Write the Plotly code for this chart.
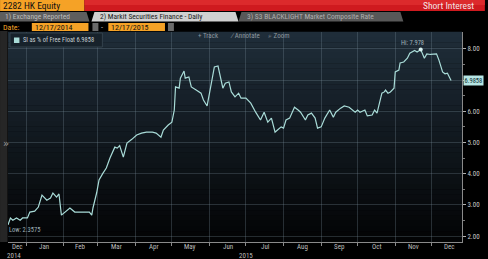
import plotly.graph_objects as go

# ---------------- data ----------------
dates = [
    "2014-12-17", "2014-12-19", "2014-12-21", "2014-12-24", "2014-12-27", "2014-12-29",
    "2015-01-02", "2015-01-04", "2015-01-08", "2015-01-11", "2015-01-14", "2015-01-16",
    "2015-01-18", "2015-01-21", "2015-01-23", "2015-01-26", "2015-01-28", "2015-01-30",
    "2015-02-02", "2015-02-06", "2015-02-10", "2015-02-16", "2015-02-22", "2015-02-24",
    "2015-02-25", "2015-02-28", "2015-03-02", "2015-03-05", "2015-03-08", "2015-03-11",
    "2015-03-15", "2015-03-17", "2015-03-19", "2015-03-22", "2015-03-25", "2015-03-29",
    "2015-04-02", "2015-04-06", "2015-04-10", "2015-04-15", "2015-04-18", "2015-04-22",
    "2015-04-24", "2015-04-28", "2015-05-01", "2015-05-03", "2015-05-04", "2015-05-07",
    "2015-05-08", "2015-05-11", "2015-05-12", "2015-05-15", "2015-05-17", "2015-05-21",
    "2015-05-25", "2015-05-27", "2015-05-30", "2015-06-01", "2015-06-03", "2015-06-05",
    "2015-06-08", "2015-06-10", "2015-06-11", "2015-06-12", "2015-06-14", "2015-06-17",
    "2015-06-19", "2015-06-22", "2015-06-25", "2015-06-27", "2015-07-01", "2015-07-05",
    "2015-07-09", "2015-07-13", "2015-07-16", "2015-07-19", "2015-07-22", "2015-07-25",
    "2015-07-27", "2015-07-30", "2015-08-01", "2015-08-03", "2015-08-06", "2015-08-10",
    "2015-08-13", "2015-08-15", "2015-08-19", "2015-08-21", "2015-08-24", "2015-08-27",
    "2015-08-29", "2015-09-01", "2015-09-04", "2015-09-08", "2015-09-11", "2015-09-13",
    "2015-09-17", "2015-09-20", "2015-09-24", "2015-09-29", "2015-10-01", "2015-10-03",
    "2015-10-07", "2015-10-09", "2015-10-13", "2015-10-15", "2015-10-17", "2015-10-19",
    "2015-10-21", "2015-10-23", "2015-10-24", "2015-10-26", "2015-10-28", "2015-10-31",
    "2015-11-01", "2015-11-04", "2015-11-05", "2015-11-08", "2015-11-11", "2015-11-13",
    "2015-11-17", "2015-11-19", "2015-11-22", "2015-11-25", "2015-11-27", "2015-11-30",
    "2015-12-03", "2015-12-05", "2015-12-07", "2015-12-10", "2015-12-12", "2015-12-14",
    "2015-12-17",
]
si_pct_free_float = [
    2.3575, 2.58, 2.51, 2.58, 2.51, 2.58,
    2.58, 2.77, 2.80, 2.93, 3.31, 3.22,
    3.15, 3.22, 3.38, 3.25, 3.35, 2.67,
    2.77, 2.90, 2.77, 2.77, 2.77, 2.67,
    2.90, 3.38, 3.80, 4.00, 4.18, 4.50,
    4.85, 4.82, 4.90, 4.53, 4.98, 5.10,
    5.24, 5.30, 5.33, 5.33, 5.30, 5.17,
    5.40, 5.56, 5.65, 6.04, 6.78, 6.74,
    7.06, 7.29, 7.06, 7.10, 6.78, 6.68,
    6.58, 6.36, 6.17, 6.58, 7.06, 7.42,
    7.45, 7.10, 6.90, 6.74, 6.90, 6.94,
    6.62, 6.46, 6.58, 6.42, 6.42, 6.26,
    5.97, 5.72, 5.97, 5.65, 5.78, 5.33,
    5.40, 5.50, 5.46, 5.72, 5.78, 6.13,
    6.04, 5.97, 5.72, 5.88, 5.94, 5.78,
    5.46, 5.50, 5.78, 6.04, 5.81, 5.97,
    6.10, 6.17, 6.13, 5.97, 6.04, 5.97,
    6.04, 5.85, 5.88, 6.04, 5.94, 6.30,
    6.58, 6.62, 6.68, 6.58, 6.62, 6.74,
    7.26, 7.32, 7.55, 7.58, 7.70, 7.86,
    7.95, 7.90, 7.978, 7.70, 7.84, 7.82,
    7.84, 7.84, 7.64, 7.26, 7.20, 7.22,
    6.9858,
]
hi_date, hi_value = "2015-11-22", 7.978
low_date, low_value = "2014-12-17", 2.3575
last_value = 6.9858

month_starts = ["2015-01-01", "2015-02-01", "2015-03-01", "2015-04-01", "2015-05-01",
                "2015-06-01", "2015-07-01", "2015-08-01", "2015-09-01", "2015-10-01",
                "2015-11-01", "2015-12-01"]
month_label_dates = ["2014-12-25", "2015-01-16", "2015-02-15", "2015-03-16", "2015-04-16",
                     "2015-05-16", "2015-06-16", "2015-07-17", "2015-08-17", "2015-09-16",
                     "2015-10-17", "2015-11-16", "2015-12-16"]
month_labels = ["Dec", "Jan", "Feb", "Mar", "Apr", "May", "Jun", "Jul", "Aug", "Sep",
                "Oct", "Nov", "Dec"]
year_label_dates = ["2014-12-22", "2015-07-01"]
year_labels = ["2014", "2015"]

# right axis: 7.00 label is hidden behind the last-value tag in the reference
y_tick_vals = [2, 3, 4, 5, 6, 7, 8]
y_tick_text = ["2.00", "3.00", "4.00", "5.00", "6.00", "", "8.00"]
y_minor_vals = [2.5, 3.5, 4.5, 5.5, 6.5, 7.5]

# ---------------- geometry helpers (pixel -> paper) ----------------
W, H = 488, 259
ML, MR, MT, MB = 8, 23, 32, 17
PW, PH = W - ML - MR, H - MT - MB


def X(px):
    return (px - ML) / PW


def Y(py):
    return (H - MB - py) / PH


FONT = "Liberation Sans Narrow, Roboto Condensed, Liberation Sans, Arial, sans-serif"
LINE = "#a9dcd8"
GRID = "rgba(120,140,152,0.30)"

fig = go.Figure()
fig.add_trace(go.Scatter(x=dates, y=si_pct_free_float, mode="lines",
                         line=dict(color=LINE, width=1.2), hoverinfo="skip"))
fig.add_trace(go.Scatter(x=[hi_date], y=[hi_value], mode="markers",
                         marker=dict(color="#d8f2f0", size=4), hoverinfo="skip"))

shapes = []
# gradient background of plot area
N = 40
top = (31, 45, 57)
bot = (3, 4, 5)
for i in range(N):
    t = i / (N - 1)
    c = tuple(int(round(top[k] + (bot[k] - top[k]) * t)) for k in range(3))
    shapes.append(dict(type="rect", xref="paper", yref="paper", x0=0, x1=1,
                       y0=1 - (i + 1) / N, y1=1 - i / N + 0.001,
                       fillcolor="rgb(%d,%d,%d)" % c, line=dict(width=0), layer="below"))

# left strip
shapes.append(dict(type="rect", xref="paper", yref="paper", x0=X(0), x1=X(7.5),
                   y0=Y(242), y1=Y(31), fillcolor="#262626", line=dict(width=0)))
# header row 1
shapes.append(dict(type="rect", xref="paper", yref="paper", x0=X(0), x1=X(85),
                   y0=Y(11), y1=Y(0), fillcolor="#f5a226", line=dict(width=0)))
shapes.append(dict(type="rect", xref="paper", yref="paper", x0=X(85), x1=X(488),
                   y0=Y(11), y1=Y(0), fillcolor="#cf1a1f", line=dict(width=0)))
shapes.append(dict(type="rect", xref="paper", yref="paper", x0=X(85), x1=X(488),
                   y0=Y(5), y1=Y(0), fillcolor="#dc2a2c", line=dict(width=0)))


def tab(x0, x1, color):
    return dict(type="path", xref="paper", yref="paper",
                path="M %f %f L %f %f L %f %f L %f %f Z" % (
                    X(x0), Y(21.5), X(x0 + 3), Y(12), X(x1 - 3), Y(12), X(x1), Y(21.5)),
                fillcolor=color, line=dict(width=0))


shapes.append(dict(type="rect", xref="paper", yref="paper", x0=X(0), x1=X(488),
                   y0=Y(21.5), y1=Y(11), fillcolor="#000000", line=dict(width=0)))
shapes.append(tab(-3, 90, "#5e5e5e"))
shapes.append(tab(92, 240, "#d0d0d0"))
shapes.append(tab(240, 406, "#585858"))
# date row
shapes.append(dict(type="rect", xref="paper", yref="paper", x0=X(32), x1=X(89),
                   y0=Y(31), y1=Y(23), fillcolor="#f5a226", line=dict(width=0)))
shapes.append(dict(type="rect", xref="paper", yref="paper", x0=X(109), x1=X(166),
                   y0=Y(31), y1=Y(23), fillcolor="#f5a226", line=dict(width=0)))
for ix in (93, 169):
    shapes.append(dict(type="rect", xref="paper", yref="paper", x0=X(ix), x1=X(ix + 6),
                       y0=Y(31), y1=Y(23), fillcolor="#6a6a6a", line=dict(width=0)))
# legend box
shapes.append(dict(type="rect", xref="paper", yref="paper", x0=X(10), x1=X(103),
                   y0=Y(47), y1=Y(33), fillcolor="#17222b",
                   line=dict(color="#34424d", width=1)))
shapes.append(dict(type="rect", xref="paper", yref="paper", x0=X(14), x1=X(19.5),
                   y0=Y(43), y1=Y(37.5), fillcolor=LINE, line=dict(width=0)))

ann = []
for d, t in zip(month_label_dates, month_labels):
    ann.append(dict(x=d, y=Y(247.5), xref="x", yref="paper", text=t, showarrow=False,
                    font=dict(size=7, color="#bdbdbd", family=FONT), yanchor="middle"))
for d, t in zip(year_label_dates, year_labels):
    ann.append(dict(x=d, y=Y(255.5), xref="x", yref="paper", text=t, showarrow=False,
                    font=dict(size=7, color="#bdbdbd", family=FONT), yanchor="middle"))


def txt(px, py, s, size, color, anchor="left", family=FONT):
    return dict(x=X(px), y=Y(py), xref="paper", yref="paper", text=s, showarrow=False,
                xanchor=anchor, yanchor="middle",
                font=dict(size=size, color=color, family=family))


ann += [
    txt(1, 5.5, "2282 HK Equity", 9.5, "#111111"),
    txt(479, 5.5, "Short Interest", 9.5, "#f4e4e4", anchor="right"),
    txt(3, 16.8, "1) Exchange Reported", 7.5, "#bdbdbd"),
    txt(99, 16.8, "2) Markit Securities Finance - Daily", 7.5, "#1a1a1a"),
    txt(247, 16.8, "3) S3 BLACKLIGHT Market Composite Rate", 7.5, "#b0b0b0"),
    txt(1, 27, "Date:", 8, "#f5a226"),
    txt(33, 27, "12/17/2014", 8, "#111111"),
    txt(110, 27, "12/17/2015", 8, "#111111"),
    txt(100, 27, "-", 8, "#cfcfcf"),
    txt(21, 40, f"SI as % of Free Float {last_value:.4f}", 6.5, "#c8d0d4"),
    txt(197, 36, "+ Track", 7, "#8d979e"),
    txt(229, 36, "∕ Annotate", 7, "#8d979e"),
    txt(268, 36, "⌕ Zoom", 7, "#8d979e"),
    txt(0.5, 143, "»", 10, "#9a9a9a", family="DejaVu Sans"),
    dict(x=hi_date, y=hi_value, xref="x", yref="y", text=f"Hi: {hi_value:.3f}",
         showarrow=False, xanchor="center", yanchor="bottom", xshift=-8, yshift=1,
         font=dict(size=6.5, color="#9fb1b8", family=FONT)),
    dict(x=low_date, y=low_value, xref="x", yref="y", text=f"Low: {low_value:.4f}",
         showarrow=False, xanchor="left", yanchor="top", xshift=-1, yshift=1,
         font=dict(size=6.5, color="#9fb1b8", family=FONT)),
    dict(x=X(466.5), y=last_value, xref="paper", yref="y", text=f"{last_value:.4f}",
         showarrow=False, xanchor="left", yanchor="middle",
         font=dict(size=6.5, color="#0e2e33", family=FONT), bgcolor="#b6e6e4",
         borderpad=0.5),
]

fig.update_layout(
    width=W, height=H,
    margin=dict(l=ML, r=MR, t=MT, b=MB, pad=0),
    paper_bgcolor="#000000",
    plot_bgcolor="rgba(0,0,0,0)",
    showlegend=False,
    shapes=shapes,
    annotations=ann,
    xaxis=dict(type="date", range=["2014-12-17", "2015-12-26"], tickmode="array",
               tickvals=month_starts, showticklabels=False, ticks="outside", ticklen=3,
               tickcolor="#8a8a8a", showgrid=True, gridcolor=GRID, gridwidth=1,
               showline=True, linecolor="#8a8a8a", linewidth=1, zeroline=False,
               fixedrange=True),
    yaxis=dict(side="right", range=[1.81, 8.54], tickmode="array",
               tickvals=y_tick_vals, ticktext=y_tick_text,
               ticks="outside", ticklen=3, tickcolor="#b0b0b0",
               tickfont=dict(size=7, color="#c8c8c8", family=FONT),
               showgrid=True, gridcolor=GRID, gridwidth=1,
               showline=True, linecolor="#8a8a8a", linewidth=1, zeroline=False,
               minor=dict(tickmode="array", tickvals=y_minor_vals, ticks="outside",
                          ticklen=2, tickcolor="#7a7a7a", showgrid=False),
               fixedrange=True),
)

fig.write_html("out.html")
